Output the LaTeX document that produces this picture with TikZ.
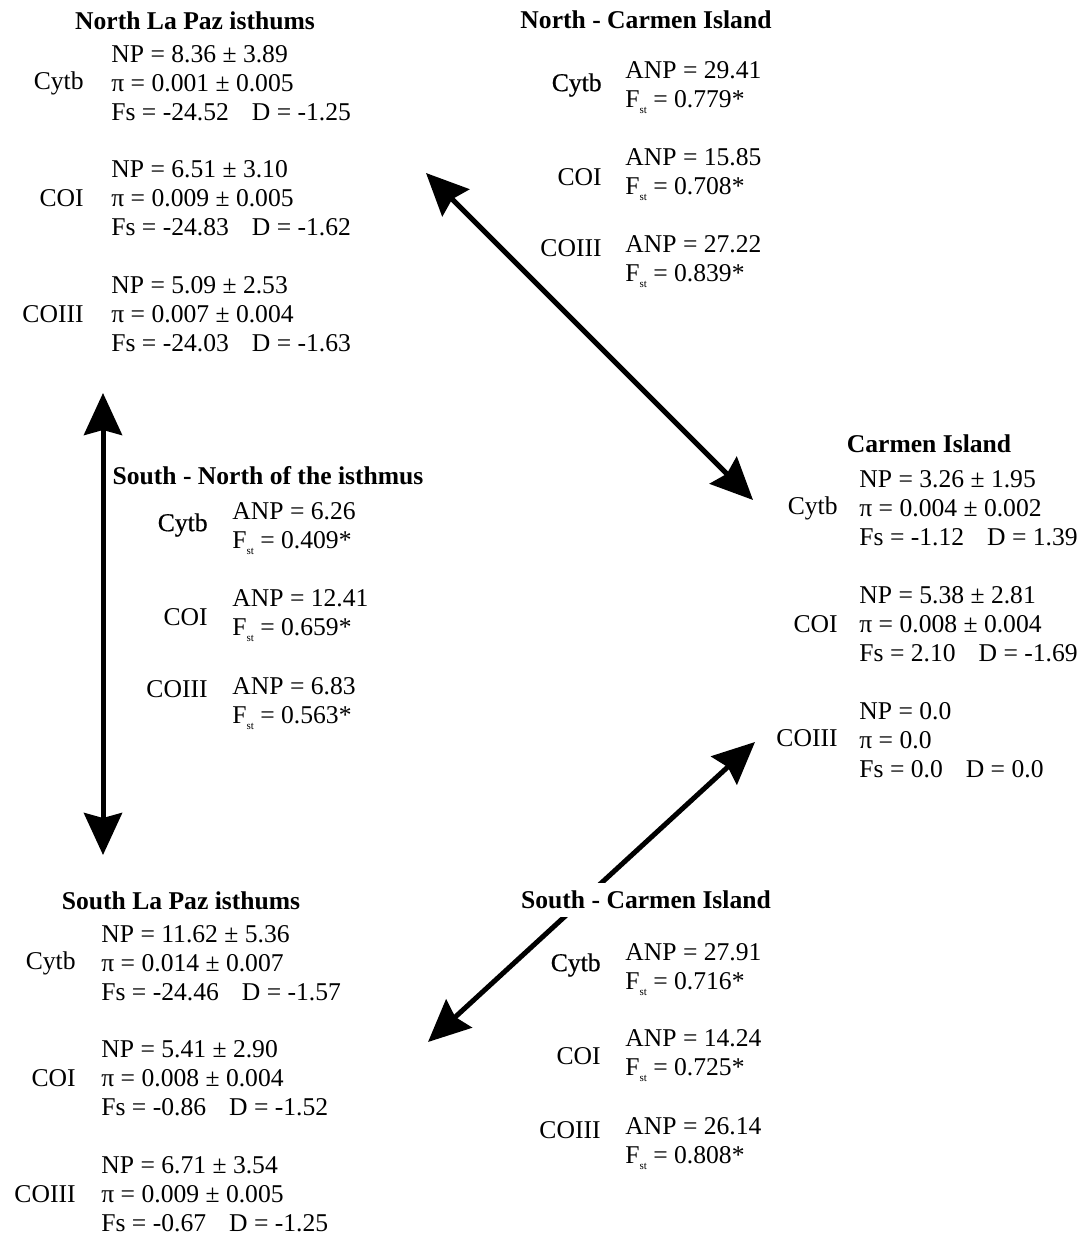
\documentclass[tikz,border=0pt]{standalone}
\usepackage{fontspec}
\setmainfont{Liberation Serif}
\usetikzlibrary{arrows.meta}
\newcommand{\Fst}{F\raisebox{-3pt}{\fontsize{5.5pt}{5.5pt}\selectfont st}}
\newcommand{\gapD}{\hspace{11.5pt}}
\newcommand{\heavy}[1]{{\addfontfeature{FakeBold=0.6}#1}}
\begin{document}
\begin{tikzpicture}[x=0.5pt,y=-0.5pt,
  txt/.style={inner sep=0pt, font=\fontsize{12.8pt}{14.5pt}\selectfont},
  val/.style={txt, anchor=west, align=left},
  lab/.style={txt, anchor=east},
  hdr/.style={inner sep=0pt, font=\fontsize{12.8pt}{14.5pt}\selectfont\bfseries},
  dbl/.style={line width=2.5pt, {Stealth[length=21pt,width=19pt,inset=2.5pt]}-{Stealth[length=21pt,width=19pt,inset=2.5pt]}}
]
\useasboundingbox (0,0) rectangle (1080,1235);

% ---------- arrows ----------
\coordinate (a1n) at (426,173);
\coordinate (a1s) at (753,500);
\coordinate (a2n) at (103,393);
\coordinate (a2s) at (103,855);
\coordinate (a3s) at (428,1042);
\coordinate (a3n) at (755,742);
\draw[dbl] (a1n) -- (a1s);
\draw[dbl] (a2n) -- (a2s);
\draw[dbl] (a3s) -- (a3n);

% ---------- North La Paz isthums ----------
\node[hdr] (nlph) at (195,21) {North La Paz isthums};
\node[lab] (nlpl1) at (84,83) {Cytb};
\node[val] (nlpv1) at (111,83) {NP = 8.36 ± 3.89\\π = 0.001 ± 0.005\\Fs = -24.52\gapD D = -1.25};
\node[lab] (nlpl2) at (84,198) {COI};
\node[val] (nlpv2) at (111,198) {NP = 6.51 ± 3.10\\π = 0.009 ± 0.005\\Fs = -24.83\gapD D = -1.62};
\node[lab] (nlpl3) at (84,314) {COIII};
\node[val] (nlpv3) at (111,314) {NP = 5.09 ± 2.53\\π = 0.007 ± 0.004\\Fs = -24.03\gapD D = -1.63};

% ---------- North - Carmen Island ----------
\node[hdr] (nch) at (646,20) {North - Carmen Island};
\node[lab] (ncl1) at (602,85) {\heavy{Cytb}};
\node[val] (ncv1) at (625,88) {ANP = 29.41\\\Fst{} = 0.779*};
\node[lab] (ncl2) at (602,177) {COI};
\node[val] (ncv2) at (625,175) {ANP = 15.85\\\Fst{} = 0.708*};
\node[lab] (ncl3) at (602,248) {COIII};
\node[val] (ncv3) at (625,262) {ANP = 27.22\\\Fst{} = 0.839*};

% ---------- South - North of the isthmus ----------
\node[hdr] (snh) at (268,476) {South - North of the isthmus};
\node[lab] (snl1) at (208,525) {\heavy{Cytb}};
\node[val] (snv1) at (232,529) {ANP = 6.26\\\Fst{} = 0.409*};
\node[lab] (snl2) at (208,617) {COI};
\node[val] (snv2) at (232,616) {ANP = 12.41\\\Fst{} = 0.659*};
\node[lab] (snl3) at (208,689) {COIII};
\node[val] (snv3) at (232,704) {ANP = 6.83\\\Fst{} = 0.563*};

% ---------- Carmen Island ----------
\node[hdr] (cih) at (929,444) {Carmen Island};
\node[lab] (cil1) at (838,508) {Cytb};
\node[val] (civ1) at (859,508) {NP = 3.26 ± 1.95\\π = 0.004 ± 0.002\\Fs = -1.12\gapD D = 1.39};
\node[lab] (cil2) at (838,624) {COI};
\node[val] (civ2) at (859,624) {NP = 5.38 ± 2.81\\π = 0.008 ± 0.004\\Fs = 2.10\gapD D = -1.69};
\node[lab] (cil3) at (838,738) {COIII};
\node[val] (civ3) at (859,740) {NP = 0.0\\π = 0.0\\Fs = 0.0\gapD D = 0.0};

% ---------- South La Paz isthums ----------
\node[hdr] (slph) at (181,901) {South La Paz isthums};
\node[lab] (slpl1) at (76,963) {Cytb};
\node[val] (slpv1) at (101,963) {NP = 11.62 ± 5.36\\π = 0.014 ± 0.007\\Fs = -24.46\gapD D = -1.57};
\node[lab] (slpl2) at (76,1078) {COI};
\node[val] (slpv2) at (101,1078) {NP = 5.41 ± 2.90\\π = 0.008 ± 0.004\\Fs = -0.86\gapD D = -1.52};
\node[lab] (slpl3) at (76,1194) {COIII};
\node[val] (slpv3) at (101,1194) {NP = 6.71 ± 3.54\\π = 0.009 ± 0.005\\Fs = -0.67\gapD D = -1.25};

% ---------- South - Carmen Island ----------
\node[hdr, fill=white, inner xsep=2pt, inner ysep=4pt] (sch) at (646,900) {South - Carmen Island};
\node[lab] (scl1) at (601,965) {\heavy{Cytb}};
\node[val] (scv1) at (625,970) {ANP = 27.91\\\Fst{} = 0.716*};
\node[lab] (scl2) at (601,1056) {COI};
\node[val] (scv2) at (625,1056) {ANP = 14.24\\\Fst{} = 0.725*};
\node[lab] (scl3) at (601,1130) {COIII};
\node[val] (scv3) at (625,1144) {ANP = 26.14\\\Fst{} = 0.808*};
\end{tikzpicture}
\end{document}
